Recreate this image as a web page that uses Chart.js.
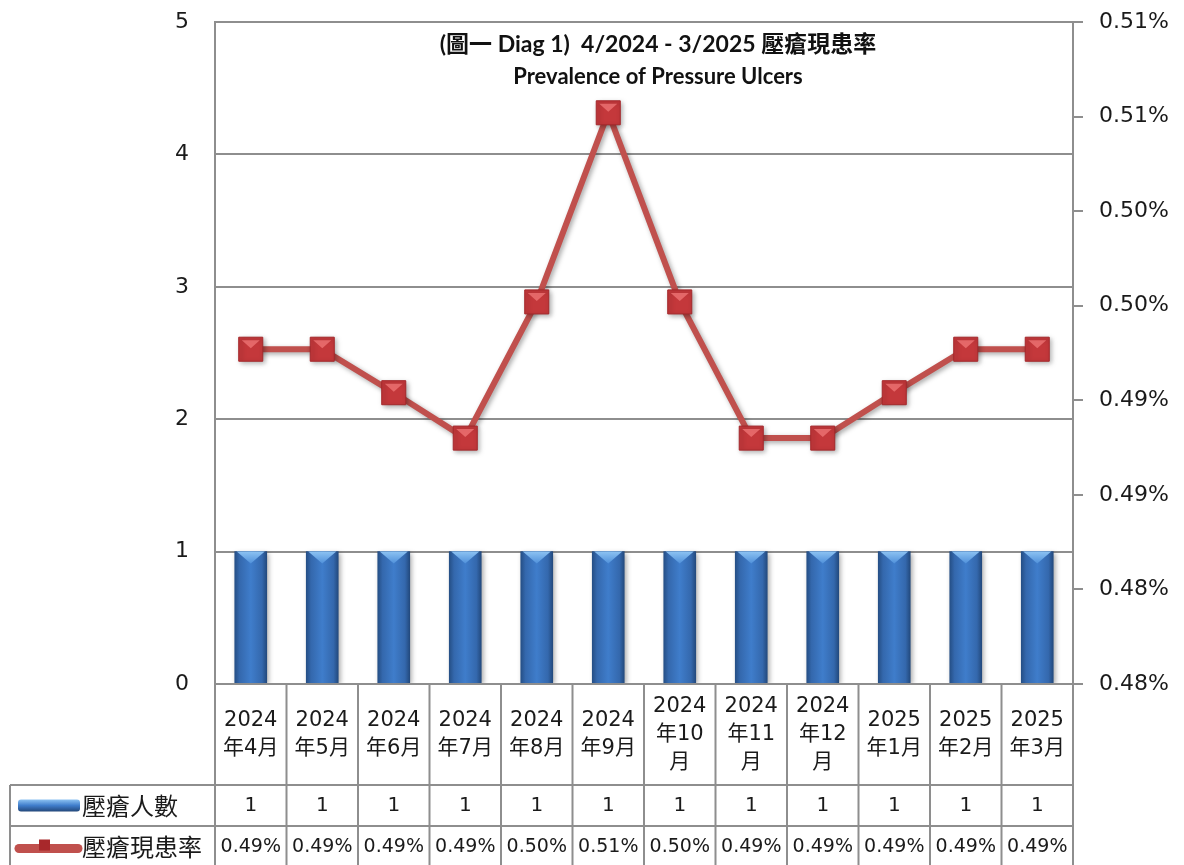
<!DOCTYPE html>
<html>
<head>
<meta charset="utf-8">
<script src="https://cdn.jsdelivr.net/npm/chart.js@4.4.1/dist/chart.umd.min.js"></script>
<style>
  html, body { margin: 0; padding: 0; background: #fff; }
  #wrap { width: 1184px; height: 865px; }
</style>
</head>
<body>
<div id="wrap"><canvas id="ulcerChart" width="1184" height="865"></canvas></div>
<script>
// header cells of the data table, one entry per wrapped line
const monthLabels = [
    ['2024', '年4月'], ['2024', '年5月'], ['2024', '年6月'], ['2024', '年7月'],
    ['2024', '年8月'], ['2024', '年9月'], ['2024', '年10', '月'], ['2024', '年11', '月'],
    ['2024', '年12', '月'], ['2025', '年1月'], ['2025', '年2月'], ['2025', '年3月']
];
const ulcerCounts = [1, 1, 1, 1, 1, 1, 1, 1, 1, 1, 1, 1];
// prevalence in percent
const prevalenceRates = [0.4927, 0.4927, 0.4904, 0.4880, 0.4952, 0.5052, 0.4952, 0.4880, 0.4880, 0.4904, 0.4927, 0.4927];
const seriesNames = ['壓瘡人數', '壓瘡現患率'];
const titleLines = ['(圖一 Diag 1)  4/2024 - 3/2025 壓瘡現患率', 'Prevalence of Pressure Ulcers'];
const countRange = [0, 5, 1];          // min, max, step
const rateRange = [0.475, 0.510, 0.005];

const FONT = "'DejaVu Sans', 'Noto Sans CJK TC', sans-serif";
const CJK = "'Noto Sans CJK TC', 'DejaVu Sans', sans-serif";
const GRID = '#8e8e8e';
const TEXT = '#1a1a1a';

function pct(v) {
    return (Math.round(v * 100 + 1e-6) / 100).toFixed(2) + '%';
}

function barGradient(ctx, x, half) {
    const g = ctx.createLinearGradient(x - half, 0, x + half, 0);
    g.addColorStop(0, '#254f86');
    g.addColorStop(0.15, '#3468ad');
    g.addColorStop(0.5, '#3f7dcb');
    g.addColorStop(0.85, '#3468ad');
    g.addColorStop(1, '#234a7e');
    return g;
}

// no extra room above/below the value axes, the plot starts right at the padding
function flushAxis(s, width) {
    s.width = width;
    s.paddingTop = 0;
    s.paddingBottom = 0;
}

// soft shadow under bars and markers, plus the light bevel on top of each mark
const bevelPlugin = {
    id: 'bevel',
    beforeDatasetDraw(chart, args) {
        const ctx = chart.ctx;
        ctx.save();
        ctx.shadowColor = 'rgba(0,0,0,0.35)';
        ctx.shadowBlur = 5;
        ctx.shadowOffsetX = 2;
        ctx.shadowOffsetY = 2;
    },
    afterDatasetDraw(chart, args) {
        const ctx = chart.ctx;
        ctx.restore();
        const meta = args.meta;
        ctx.save();
        if (meta.type === 'bar') {
            meta.data.forEach(bar => {
                const half = bar.width / 2;
                const g = ctx.createLinearGradient(0, bar.y, 0, bar.y + 12);
                g.addColorStop(0, '#8cc2f2');
                g.addColorStop(1, '#4f90da');
                ctx.fillStyle = g;
                ctx.beginPath();
                ctx.moveTo(bar.x - half + 2, bar.y);
                ctx.lineTo(bar.x + half - 2, bar.y);
                ctx.lineTo(bar.x, bar.y + 12);
                ctx.closePath();
                ctx.fill();
            });
        } else {
            meta.data.forEach(pt => {
                const s = 11;
                ctx.fillStyle = 'rgba(240,120,120,0.75)';
                ctx.beginPath();
                ctx.moveTo(pt.x - s + 2, pt.y - s + 2);
                ctx.lineTo(pt.x + s - 2, pt.y - s + 2);
                ctx.lineTo(pt.x, pt.y - 1);
                ctx.closePath();
                ctx.fill();
            });
        }
        ctx.restore();
    }
};

// title inside the plot area
const titlePlugin = {
    id: 'innerTitle',
    afterDraw(chart) {
        const ctx = chart.ctx;
        const a = chart.chartArea;
        const cx = (a.left + a.right) / 2 + 14;
        ctx.save();
        ctx.fillStyle = '#111';
        ctx.textAlign = 'center';
        ctx.textBaseline = 'middle';
        ctx.font = "bold 23px Lato, 'Noto Sans CJK TC', sans-serif";
        ctx.fillText(titleLines[0], cx, a.top + 23);
        ctx.font = "bold 22px Lato, 'Noto Sans CJK TC', sans-serif";
        ctx.fillText(titleLines[1], cx, a.top + 55);
        ctx.restore();
    }
};

// data table under the plot: month header, counts row and rates row
const tablePlugin = {
    id: 'dataTable',
    afterDraw(chart) {
        const ctx = chart.ctx;
        const a = chart.chartArea;
        const xs = chart.scales.x;
        const n = monthLabels.length;
        const colW = (a.right - a.left) / n;
        const headTop = a.bottom;
        const row1 = headTop + 101;
        const row2 = row1 + 41;
        const bottom = chart.height;
        const legendLeft = 10;

        ctx.save();
        ctx.strokeStyle = GRID;
        ctx.lineWidth = 2;
        ctx.beginPath();
        ctx.moveTo(a.left, headTop); ctx.lineTo(a.right + 10, headTop);
        ctx.moveTo(legendLeft, row1); ctx.lineTo(a.right, row1);
        ctx.moveTo(legendLeft, row2); ctx.lineTo(a.right, row2);
        ctx.moveTo(legendLeft, row1); ctx.lineTo(legendLeft, bottom);
        for (let i = 0; i <= n; i++) {
            const x = a.left + i * colW;
            ctx.moveTo(x, headTop); ctx.lineTo(x, bottom);
        }
        ctx.stroke();

        ctx.fillStyle = TEXT;
        ctx.textAlign = 'center';
        ctx.textBaseline = 'middle';
        monthLabels.forEach((lines, i) => {
            const cx = xs.getPixelForValue(i);
            const lh = 28;
            const y0 = (headTop + row1) / 2 - (lines.length - 1) * lh / 2;
            ctx.font = '21px ' + FONT;
            lines.forEach((t, k) => ctx.fillText(t, cx, y0 + k * lh, colW - 6));
            ctx.font = '20px ' + FONT;
            ctx.fillText(String(ulcerCounts[i]), cx, (row1 + row2) / 2);
            ctx.font = '19px ' + FONT;
            ctx.fillText(pct(prevalenceRates[i]), cx, (row2 + bottom) / 2 + 2, colW - 8);
        });

        // legend keys
        const ky1 = (row1 + row2) / 2;
        const g = ctx.createLinearGradient(0, ky1 - 6, 0, ky1 + 6);
        g.addColorStop(0, '#8cc2f2');
        g.addColorStop(0.5, '#3f7dcb');
        g.addColorStop(1, '#23487a');
        ctx.fillStyle = g;
        ctx.beginPath();
        ctx.roundRect(18, ky1 - 6, 62, 12, 3);
        ctx.fill();

        const ky2 = (row2 + bottom) / 2 + 3;
        ctx.strokeStyle = '#c0504d';
        ctx.lineWidth = 9;
        ctx.lineCap = 'round';
        ctx.beginPath();
        ctx.moveTo(19, ky2); ctx.lineTo(78, ky2);
        ctx.stroke();
        ctx.fillStyle = '#a8282b';
        ctx.fillRect(39, ky2 - 9, 11, 11);

        ctx.fillStyle = TEXT;
        ctx.textAlign = 'left';
        ctx.font = '24px ' + CJK;
        ctx.fillText(seriesNames[0], 82, ky1);
        ctx.fillText(seriesNames[1], 82, ky2 - 2);
        ctx.restore();
    }
};

const ulcerCtx = document.getElementById('ulcerChart');
const ulcerChart = new Chart(ulcerCtx, {
    type: 'bar',
    data: {
        labels: monthLabels.map(l => l.join('')),
        datasets: [{
            type: 'line',
            label: seriesNames[1],
            data: prevalenceRates,
            yAxisID: 'y1',
            order: 0,
            borderColor: '#c0504d',
            borderWidth: 6,
            pointStyle: 'rect',
            pointRadius: 17,
            pointBackgroundColor: '#c4383b',
            pointBorderColor: '#a4282b',
            pointBorderWidth: 1,
            tension: 0
        }, {
            type: 'bar',
            label: seriesNames[0],
            data: ulcerCounts,
            yAxisID: 'y',
            order: 1,
            barThickness: 32,
            backgroundColor: function (c) {
                const xs = c.chart.scales.x;
                const x = xs ? xs.getPixelForValue(c.dataIndex) : NaN;
                if (!isFinite(x)) return '#3a78c4';
                return barGradient(c.chart.ctx, x, 16);
            },
            borderWidth: 0
        }]
    },
    options: {
        responsive: false,
        animation: false,
        layout: { padding: { top: 22, bottom: 181, left: 0, right: 0 } },
        plugins: {
            legend: { display: false },
            tooltip: { enabled: false }
        },
        scales: {
            x: { display: false },
            y: {
                position: 'left',
                min: countRange[0],
                max: countRange[1],
                ticks: { stepSize: countRange[2], color: TEXT, font: { family: FONT, size: 22 }, padding: 26 },
                grid: { color: GRID, lineWidth: 2, drawTicks: false },
                border: { color: GRID, width: 2 },
                afterFit(s) { flushAxis(s, 215); }
            },
            y1: {
                position: 'right',
                min: rateRange[0],
                max: rateRange[1],
                ticks: {
                    stepSize: rateRange[2],
                    color: TEXT,
                    font: { family: FONT, size: 22 },
                    padding: 16,
                    callback: v => pct(v)
                },
                grid: { drawOnChartArea: false, color: GRID, lineWidth: 2, tickLength: 10 },
                border: { color: GRID, width: 2 },
                afterFit(s) { flushAxis(s, 111); }
            }
        }
    },
    plugins: [bevelPlugin, titlePlugin, tablePlugin]
});
</script>
</body>
</html>
